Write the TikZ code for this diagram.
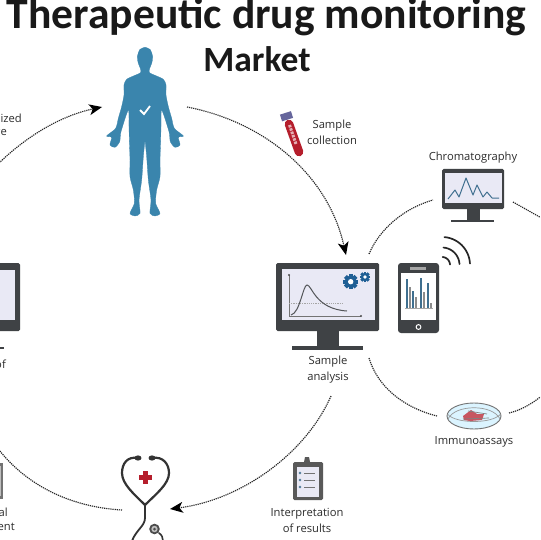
\documentclass[tikz,border=0pt]{standalone}
\usepackage{fontspec}
\setmainfont{Open Sans}
\newfontfamily\titlefont{Carlito}
\usetikzlibrary{arrows.meta}
\definecolor{mon}{HTML}{3F4245}
\definecolor{scr}{HTML}{E9E9F5}
\definecolor{bluebody}{HTML}{3A85AD}
\definecolor{gearblue}{HTML}{1F5F95}
\definecolor{chartblue}{HTML}{3F6F8F}
\definecolor{lab}{HTML}{2C2C2C}
\definecolor{crossred}{HTML}{B51E2C}
\tikzset{
  x=1pt,y=-1pt,
  lbl/.style={font=\fontsize{11.2}{16}\selectfont,text=lab,align=center,inner sep=0pt},
  lblr/.style={lbl,anchor=east},
  conn/.style={line width=1.15pt,dash pattern=on 1.2pt off 0.9pt,color=black!85},
  arr/.style={conn,-{Stealth[length=13pt,width=11pt,inset=3.5pt,color=black,line width=0pt]}},
  monframe/.style={fill=mon,draw=none,rounded corners=1.5pt},
  scrn/.style={fill=scr,draw=none},
  steth/.style={draw=black!80,line width=2.2pt,line cap=round,fill=none},
}
\newcommand{\gearicon}[3]{%
  \foreach \a in {0,45,...,135}
    \draw[gearblue,line width=#3*0.55pt] ({#1+#3*cos(\a)},{#2+#3*sin(\a)}) -- ({#1-#3*cos(\a)},{#2-#3*sin(\a)});
  \fill[gearblue] (#1,#2) circle[radius=#3*0.78];
  \fill[white] (#1,#2) circle[radius=#3*0.36];
}
\newcommand{\bodyhalf}{%
  \fill[bluebody,draw=bluebody,line width=.3pt] plot[smooth,tension=.45] coordinates {
    (0,142) (-15,148) (-23,170) (-20,190) (-14,205) (-13,218) (-30,226) (-55,238) (-63,255)
    (-63,285) (-70,320) (-80,355) (-88,385) (-115,408) (-100,412) (-105,435) (-90,442) (-76,425)
    (-72,395) (-50,330) (-48,380) (-47,420) (-45,480) (-45,530) (-35,570) (-32,610) (-45,640)
    (-30,648) (-15,640) (-18,600) (-10,540) (-5,470) (0,420)} -- cycle;
}
\begin{document}
\begin{tikzpicture}
\useasboundingbox (0,0) rectangle (540,540);
\clip (0,0) rectangle (540,540);
\fill[white] (0,0) rectangle (540,540);

% titles
\node[font=\titlefont\bfseries\fontsize{43.6}{44}\selectfont,text=black!90,anchor=base,inner sep=0pt] (title) at (266.5,29) {Therapeutic drug monitoring};
\node[font=\titlefont\bfseries\fontsize{35.5}{36}\selectfont,text=black!90,anchor=base,inner sep=0pt] (market) at (257,72) {Market};

% human figure
\begin{scope}[shift={(145,0)},x=.3333pt,y=-.3333pt]
  \bodyhalf
\end{scope}
\begin{scope}[shift={(145,0)},x=-.3333pt,y=-.3333pt]
  \bodyhalf
\end{scope}
\draw[white,line width=1.8pt] (140,110) -- (144,114) -- (150,106);

% test tube
\draw[crossred,line width=8.6pt,line cap=round] (289,124) -- (299,152);
\draw[crossred!35,line width=3pt,dash pattern=on 2.5pt off 1pt] (289.5,125) -- (296,144);
\draw[black!65!blue!60,line width=7pt] (281,118) -- (292,114.5);

% main monitor
\node[monframe,minimum width=103pt,minimum height=68pt,inner sep=0pt] (mainmon) at (327.5,297) {};
\fill[scrn] (282,269) rectangle (375,320);
\fill[mon] (317,331) rectangle (339,346);
\fill[mon] (292,346) rectangle (363,350);
\draw[black!55,line width=.9pt] (289,275) -- (289,316) -- (361,316);
\fill[black!70] (289,275) circle[radius=1.2];
\fill[black!70] (361,316) circle[radius=1.2];
\draw[black!35,line width=.8pt,dash pattern=on 1.2pt off 1pt] (289,303) -- (343,303);
\draw[mon!90,line width=1pt] (291,315) .. controls (300,313) and (303,285) .. (307,285) .. controls (312,285) and (315,309) .. (347,311);
\gearicon{350.7}{281.7}{7.5}
\gearicon{365}{277}{5.2}

% phone
\node[fill=mon,draw=none,rounded corners=3pt,minimum width=41pt,minimum height=70pt,inner sep=0pt] (phone) at (418.5,298) {};
\fill[white] (401,273) rectangle (436,320);
\fill[black!35] (410,267) rectangle (426,269.5);
\draw[white,line width=1pt] (418.5,327) circle[radius=2.4];
\foreach \x/\t/\c in {407/279/chartblue,410/287/black!45,413/291/chartblue,416/297/black!45,421/278/chartblue,424/292/black!45,428/283/chartblue,431/303/black!45}
  \draw[\c,line width=1.5pt] (\x,308) -- (\x,\t);
\draw[black!35,line width=.6pt] (405,308.5) -- (433,308.5);

% waves
\foreach \r in {8,17.5,28}
  \draw[black!85,line width=1.7pt,line cap=round] plot[domain=3:85,samples=16] ({442+\r*cos(\x)},{265-\r*sin(\x)});

% chromatography monitor
\node[monframe,minimum width=62pt,minimum height=40pt,inner sep=0pt] (chrommon) at (473,189) {};
\fill[scrn] (445,173) rectangle (502,203);
\fill[mon] (467,209) rectangle (480,220);
\fill[mon] (451,219.5) rectangle (494,222);
\draw[chartblue,line width=1pt,line join=round] (448,199) -- (455,190) -- (459,197) -- (466,178) -- (473,195) -- (477,185) -- (483,197) -- (487,192) -- (492,198) -- (499,198);

% left monitor
\node[monframe,minimum width=103pt,minimum height=68pt,inner sep=0pt] (leftmon) at (-31.5,297) {};
\fill[scrn] (-30,270) rectangle (15,320);
\fill[mon] (-10,347) rectangle (4,349);

% clipboard
\node[fill=black!65,draw=none,rounded corners=1.5pt,minimum width=30pt,minimum height=38pt,inner sep=0pt] (clip) at (308,481) {};
\fill[black!65] (304,462) -- (305,457) -- (309,457) -- (310,462) -- cycle;
\fill[scr] (297,467) rectangle (319,497);
\foreach \y in {473,480,487}{
  \draw[chartblue,line width=.6pt] (300,\y) circle[radius=1];
  \draw[black!55,line width=.9pt] (304,\y) -- (315,\y);
}

% petri dish
\fill[blue!30!cyan!14] (474,416) ellipse[x radius=27,y radius=13];
\draw[black!55,line width=.9pt] (474,416) ellipse[x radius=27,y radius=13];
\draw[black!40,line width=.7pt] (447.5,414) .. controls (455,424) and (493,424) .. (500.5,414);
\draw[black!40,line width=.7pt] (448,419) .. controls (455,404) and (493,404) .. (500,419);
\fill[crossred!75] (463,416) -- (471,410) -- (477,414) -- (484,414) -- (482,420) -- (470,421) -- (464,420) -- cycle;
\draw[black!50,line width=.7pt] (468,411) -- (487,414);
\draw[black!50,line width=.7pt] (463,419) -- (489,418);

% stethoscope
\path[steth] (138,458) .. controls (127,456) and (122,464) .. (122,473) .. controls (122,484) and (134,494) .. (145,505)
  .. controls (156,494) and (169,484) .. (169,473) .. controls (169,464) and (163,456) .. (152,458);
\path[steth,line width=1.8pt] (145,505) -- (145,518) .. controls (145,526) and (136,530) .. (132,541);
\path[steth,line width=1.6pt] (159,533) .. controls (162,535) and (163,538) .. (163,541);
\fill[black!80] (138,458) circle[x radius=3.5,y radius=2.6];
\fill[black!80] (152,458) circle[x radius=3.5,y radius=2.6];
\fill[black!70] (154.5,529) circle[radius=5.3];
\fill[black!25] (154.5,529) circle[radius=3.2];
\fill[black!70] (154.5,529) circle[radius=1.5];
\fill[crossred] (142.5,470.5) rectangle (147.5,483.5);
\fill[crossred] (138.5,474.5) rectangle (151.5,479.5);
\fill[black!55] (-6,463) rectangle (3,499);
\fill[black!25] (-6,466) rectangle (1,496);

% labels
\node[lbl] (lsample) at (332,132) {Sample\\collection};
\node[lbl] (lchrom) at (473,158) {Chromatography};
\node[lbl] (lanalysis) at (328,370) {Sample\\analysis};
\node[lbl] (limmuno) at (474,442) {Immunoassays};
\node[lbl] (linterp) at (307,520) {Interpretation\\of results};
\node[lblr] (lized) at (22,118) {ized};
\node[lblr] (lge) at (7,134) {ge};
\node[lblr] (lof) at (6,364) {of};
\node[lblr] (lal) at (8,512) {al};
\node[lblr] (lent) at (15,527) {ent};

% connector ends
\coordinate (a1) at (-4,166);
\coordinate (a2) at (102,107);
\coordinate (b1) at (187,107);
\coordinate (b2) at (346,255);
\coordinate (c1) at (369,254);
\coordinate (c2) at (433,200);
\coordinate (d1) at (513,202);
\coordinate (d2) at (545,220);
\coordinate (e1) at (369,358);
\coordinate (e2) at (437,416);
\coordinate (f1) at (509,413);
\coordinate (f2) at (545,393);
\coordinate (g1) at (331,396);
\coordinate (g2) at (170,509);
\coordinate (h1) at (-4,446);
\coordinate (h2) at (122,510);

\draw[arr] (a1) .. controls (25,137) and (60,116) .. (a2);
\draw[arr] (b1) .. controls (265,122) and (328,175) .. (b2);
\draw[conn] (c1) .. controls (380,228) and (405,208) .. (c2);
\draw[conn] (d1) -- (d2);
\draw[conn] (e1) .. controls (378,388) and (405,408) .. (e2);
\draw[conn] (f1) .. controls (522,410) and (535,402) .. (f2);
\draw[arr] (g1) .. controls (305,455) and (240,500) .. (g2);
\draw[conn] (h1) .. controls (25,485) and (70,507) .. (h2);
\end{tikzpicture}
\end{document}
